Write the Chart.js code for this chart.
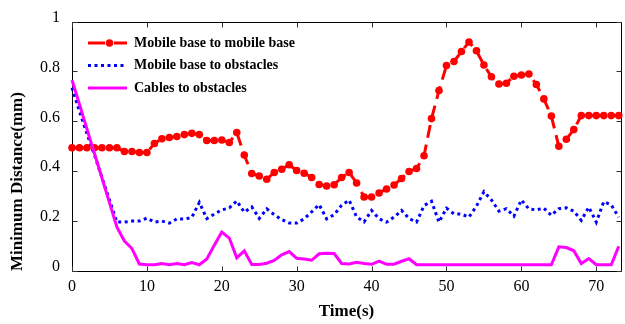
<!DOCTYPE html>
<html><head><meta charset="utf-8">
<script src="https://cdn.jsdelivr.net/npm/chart.js@4.4.1/dist/chart.umd.min.js"></script>
<style>html,body{margin:0;padding:0;background:#fff;} #wrap{width:625px;height:324px;position:relative;}</style>
</head><body><div id="wrap"><canvas id="c" width="625" height="324"></canvas></div>
<script>
const timeSeconds = [0,1,2,3,4,5,6,7,8,9,10,11,12,13,14,15,16,17,18,19,20,21,22,23,24,25,26,27,28,29,30,31,32,33,34,35,36,37,38,39,40,41,42,43,44,45,46,47,48,49,50,51,52,53,54,55,56,57,58,59,60,61,62,63,64,65,66,67,68,69,70,71,72,73];
const seriesNames = ['Mobile base to mobile base', 'Mobile base to obstacles', 'Cables to obstacles'];
const baseToBase = [0.494,0.494,0.494,0.494,0.494,0.494,0.494,0.479,0.479,0.475,0.475,0.511,0.530,0.535,0.539,0.547,0.552,0.547,0.523,0.523,0.525,0.515,0.555,0.465,0.391,0.381,0.368,0.395,0.408,0.426,0.403,0.392,0.375,0.347,0.341,0.346,0.375,0.395,0.353,0.297,0.297,0.313,0.329,0.345,0.371,0.399,0.411,0.462,0.611,0.724,0.824,0.840,0.880,0.918,0.883,0.826,0.779,0.750,0.753,0.781,0.786,0.790,0.748,0.690,0.621,0.500,0.528,0.567,0.623,0.623,0.623,0.623,0.623,0.623];
const baseToObstacles = [0.735,0.64,0.55,0.465,0.375,0.285,0.196,0.196,0.200,0.200,0.212,0.196,0.200,0.192,0.209,0.208,0.215,0.275,0.210,0.228,0.245,0.253,0.281,0.236,0.257,0.211,0.249,0.226,0.206,0.192,0.192,0.209,0.237,0.266,0.209,0.226,0.263,0.284,0.217,0.197,0.243,0.209,0.196,0.216,0.243,0.210,0.196,0.262,0.280,0.196,0.252,0.229,0.228,0.216,0.260,0.318,0.285,0.240,0.250,0.220,0.285,0.249,0.245,0.252,0.223,0.250,0.253,0.240,0.203,0.256,0.196,0.278,0.265,0.216];
const cablesToObstacles = [0.766,0.668,0.569,0.471,0.373,0.274,0.176,0.120,0.090,0.028,0.025,0.025,0.030,0.025,0.030,0.025,0.034,0.025,0.048,0.103,0.156,0.132,0.053,0.081,0.026,0.026,0.031,0.042,0.065,0.078,0.051,0.048,0.043,0.069,0.071,0.070,0.030,0.028,0.035,0.030,0.027,0.040,0.027,0.027,0.039,0.049,0.025,0.025,0.025,0.025,0.025,0.025,0.025,0.025,0.025,0.025,0.025,0.025,0.025,0.025,0.025,0.025,0.025,0.025,0.025,0.097,0.094,0.081,0.030,0.050,0.025,0.025,0.025,0.099];
const xTickValues = [0,10,20,30,40,50,60,70];
const yTickValues = [0,0.2,0.4,0.6,0.8,1];
const xTitle = 'Time(s)';
const yTitle = 'Minimum Distance(mm)';

const FONT = "'Liberation Serif', 'Times New Roman', serif";
const toPoints = arr => arr.map((v, i) => ({x: timeSeconds[i], y: v}));

const boxPlugin = {
  id: 'boxTicks',
  beforeDatasetsDraw(chart) {
    const {ctx, chartArea: a, scales: {x, y}} = chart;
    ctx.save();
    ctx.strokeStyle = '#000';
    ctx.lineWidth = 1;
    const L = Math.round(a.left) + 0.5, R = Math.round(a.right) + 0.5;
    const T = Math.round(a.top) + 0.5, B = Math.round(a.bottom) + 0.5;
    ctx.beginPath();
    ctx.moveTo(L, T); ctx.lineTo(R, T); ctx.lineTo(R, B); ctx.lineTo(L, B); ctx.closePath();
    ctx.stroke();
    ctx.strokeStyle = '#333';
    const tl = 5;
    ctx.beginPath();
    x.ticks.forEach(t => {
      const px = Math.round(x.getPixelForValue(t.value)) + 0.5;
      ctx.moveTo(px, B); ctx.lineTo(px, B - tl);
      ctx.moveTo(px, T); ctx.lineTo(px, T + tl);
    });
    y.ticks.forEach(t => {
      const py = Math.round(y.getPixelForValue(t.value)) + 0.5;
      ctx.moveTo(L, py); ctx.lineTo(L + tl, py);
      ctx.moveTo(R, py); ctx.lineTo(R - tl, py);
    });
    ctx.stroke();
    ctx.restore();
  },
  afterDraw(chart) {
    const {ctx} = chart;
    ctx.save();
    const x0 = 88, x1 = 127, textX = 134;
    chart.data.datasets.forEach((ds, i) => {
      const yy = 43 + i * 22.5;
      ctx.strokeStyle = ds.borderColor;
      ctx.lineWidth = ds.borderWidth;
      ctx.lineCap = 'butt';
      ctx.setLineDash(i === 0 ? [17, 9] : (ds.borderDash || []));
      ctx.beginPath(); ctx.moveTo(x0, yy); ctx.lineTo(x1, yy); ctx.stroke();
      ctx.setLineDash([]);
      if (ds.pointRadius > 0) {
        ctx.fillStyle = ds.pointBackgroundColor;
        ctx.beginPath(); ctx.arc((x0 + x1) / 2 + 2, yy, ds.pointRadius, 0, Math.PI * 2); ctx.fill();
      }
      ctx.fillStyle = '#000';
      ctx.font = "bold 14px " + FONT;
      ctx.textBaseline = 'middle';
      ctx.textAlign = 'left';
      ctx.fillText(ds.label, textX, yy);
    });
    ctx.restore();
  }
};

new Chart(document.getElementById('c'), {
  type: 'line',
  data: {
    datasets: [
      {label: seriesNames[0], data: toPoints(baseToBase), borderColor: '#ff0000', backgroundColor: '#ff0000',
       borderWidth: 3, borderDash: [13, 7], pointRadius: 3.8, pointBorderWidth: 0, pointBackgroundColor: '#ff0000',
       pointStyle: 'circle', tension: 0, order: 3, clip: false},
      {label: seriesNames[1], data: toPoints(baseToObstacles), borderColor: '#0000ff', backgroundColor: '#0000ff',
       borderWidth: 3, borderDash: [3, 3.5], pointRadius: 0, tension: 0, order: 2, clip: false},
      {label: seriesNames[2], data: toPoints(cablesToObstacles), borderColor: '#ff00ff', backgroundColor: '#ff00ff',
       borderWidth: 3, pointRadius: 0, tension: 0, order: 1, clip: false}
    ]
  },
  options: {
    responsive: false,
    animation: false,
    devicePixelRatio: 1,
    layout: {padding: {top: 18, right: 4, left: 0, bottom: 0}},
    plugins: {legend: {display: false}, tooltip: {enabled: false}},
    scales: {
      x: {
        type: 'linear', min: 0, max: 73.3,
        afterBuildTicks: s => { s.ticks = xTickValues.map(v => ({value: v})); },
        afterFit: s => { s.height = 53; },
        grid: {display: false, drawTicks: false},
        border: {display: false},
        ticks: {font: {family: FONT, size: 16}, color: '#000', padding: 6, maxRotation: 0, autoSkip: false},
        title: {display: true, text: xTitle, font: {family: FONT, size: 17, weight: 'bold'}, color: '#000', padding: {top: 0, bottom: 2.5}}
      },
      y: {
        type: 'linear', min: 0, max: 1,
        afterBuildTicks: s => { s.ticks = yTickValues.map(v => ({value: v})); },
        afterFit: s => { s.width = 72; },
        grid: {display: false, drawTicks: false},
        border: {display: false},
        ticks: {font: {family: FONT, size: 16}, color: '#000', padding: 12, labelOffset: -4, autoSkip: false,
                callback: v => String(v)},
        title: {display: true, text: yTitle, align: 'start', font: {family: FONT, size: 17, weight: 'bold'}, color: '#000', padding: {top: 7.5, bottom: 0}}
      }
    }
  },
  plugins: [boxPlugin]
});
</script>
</body></html>
